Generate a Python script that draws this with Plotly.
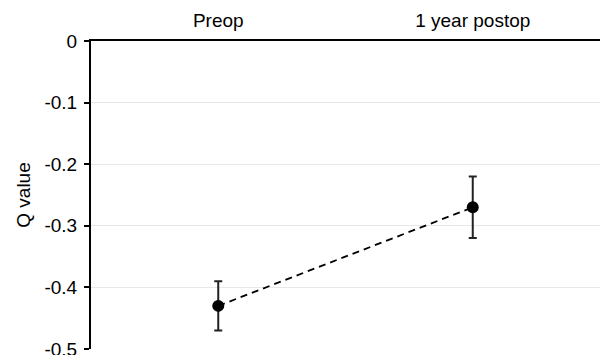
import plotly.graph_objects as go

categories = ["Preop", "1 year postop"]
q_values = [-0.43, -0.27]
err_upper = [0.04, 0.05]
err_lower = [0.04, 0.05]
y_ticks = [0, -0.1, -0.2, -0.3, -0.4, -0.5]
y_tick_labels = ["0", "-0.1", "-0.2", "-0.3", "-0.4", "-0.5"]

fig = go.Figure()
fig.add_trace(go.Scatter(
    x=categories, y=q_values,
    mode="lines+markers",
    line=dict(color="black", width=1.8, dash="7px,5px"),
    marker=dict(color="black", size=12),
    error_y=dict(type="data", symmetric=False, array=err_upper, arrayminus=err_lower,
                 color="#222222", thickness=2, width=4),
    showlegend=False,
))

fig.update_layout(
    width=600, height=355,
    margin=dict(l=91, r=0, t=41, b=6),
    plot_bgcolor="white", paper_bgcolor="white",
    font=dict(family="Arial, Liberation Sans, sans-serif", size=19, color="black"),
    xaxis=dict(
        side="top", type="category", range=[-0.5, 1.5], automargin=False,
        showline=True, linecolor="black", linewidth=2,
        showgrid=False, ticks="outside", ticklen=4, tickcolor="rgba(0,0,0,0)",
        tickfont=dict(size=19),
    ),
    yaxis=dict(
        range=[-0.5, 0], tickvals=y_ticks, ticktext=y_tick_labels, automargin=False,
        showline=True, linecolor="black", linewidth=2,
        ticks="outside", ticklen=5, tickwidth=2, tickcolor="black",
        ticklabelstandoff=3, ticklabeloverflow="allow",
        showgrid=True, gridcolor="#e8e8e8", gridwidth=1,
        zeroline=False,
        title=dict(text="Q value", font=dict(size=19), standoff=9),
        tickfont=dict(size=19),
    ),
)

fig.write_html("out.html", config={"displayModeBar": False},
               post_script="document.body.style.margin='0px';")
